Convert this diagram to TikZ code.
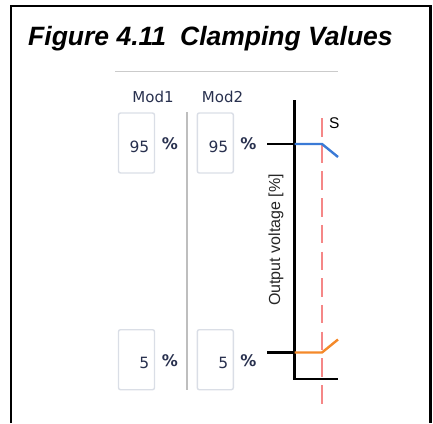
\documentclass[tikz,border=0pt]{standalone}
\usepackage{fontspec}
\setmainfont{Liberation Sans}
\newfontfamily\uifont{DejaVu Sans}
\definecolor{uitext}{RGB}{40,48,78}
\definecolor{boxgray}{RGB}{218,222,230}
\definecolor{sepgray}{RGB}{190,190,190}
\definecolor{plotblue}{RGB}{58,122,214}
\definecolor{plotorange}{RGB}{244,137,42}
\definecolor{plotred}{RGB}{245,135,135}
\tikzset{
  frameline/.style={line width=2.4pt, black},
  topsep/.style={line width=1pt, color=sepgray!80},
  vsep/.style={line width=1.5pt, color=sepgray},
  inbox/.style={draw=boxgray, line width=1.4pt, rounded corners=2pt, minimum width=36pt, minimum height=60pt, inner sep=0pt},
  uilabel/.style={font=\uifont\fontsize{15}{18}\selectfont, text=uitext, inner sep=0pt},
  valtext/.style={font=\uifont\fontsize{15.5}{18}\selectfont, text=uitext, inner sep=0pt, anchor=base east},
  pcttext/.style={font=\uifont\bfseries\fontsize{16}{19}\selectfont, text=uitext, inner sep=0pt, anchor=base},
  axisline/.style={line width=2.7pt, black},
  curve/.style={line width=2.4pt},
  markline/.style={line width=2pt, color=plotred, dash pattern=on 18.5pt off 8.2pt}
}
\begin{document}
\begin{tikzpicture}[x=1pt,y=-1pt]
\useasboundingbox (0,0) rectangle (433,423);
% outer frame (open at the bottom)
\coordinate (fbl) at (11,423);
\coordinate (ftl) at (11,6);
\coordinate (ftr) at (430.5,6);
\coordinate (fbr) at (430.5,423);
\draw[frameline] (fbl) -- (ftl) -- (ftr) -- (fbr);
% title
\node[anchor=base west, inner sep=0pt, font=\fontsize{26.5}{30}\selectfont\bfseries\itshape] (title) at (28,45.5) {Figure 4.11\hspace{14pt}Clamping Values};
% light separator under title
\coordinate (tsl) at (115,71);
\coordinate (tsr) at (338,71);
\draw[topsep] (tsl) -- (tsr);
% column headings
\node[uilabel, anchor=base] (mod1) at (153,102) {Mod1};
\node[uilabel, anchor=base] (mod2) at (222.5,102) {Mod2};
% input boxes
\node[inbox] (b1) at (136.5,143) {};
\node[inbox] (b2) at (215.3,143) {};
\node[inbox] (b3) at (136.5,359.7) {};
\node[inbox] (b4) at (215.3,359.7) {};
\node[valtext] (v1) at (149.5,152) {95};
\node[valtext] (v2) at (228.5,152) {95};
\node[valtext] (v3) at (149.5,368) {5};
\node[valtext] (v4) at (228.5,368) {5};
\node[pcttext] (p1) at (170,149.5) {\%};
\node[pcttext] (p2) at (248.5,149.5) {\%};
\node[pcttext] (p3) at (170,366.5) {\%};
\node[pcttext] (p4) at (248.5,366.5) {\%};
% vertical separator between columns
\coordinate (vst) at (187,112);
\coordinate (vsb) at (187,390);
\draw[vsep] (vst) -- (vsb);
% plot
\coordinate (ytop) at (294.5,100);
\coordinate (org) at (294.5,379);
\coordinate (xend) at (338,379);
\coordinate (hit0) at (267,144);
\coordinate (hit1) at (294.5,144);
\coordinate (lot0) at (267,352.5);
\coordinate (lot1) at (294.5,352.5);
\coordinate (hib) at (322,144);
\coordinate (hie) at (338,157);
\coordinate (lob) at (322,352.5);
\coordinate (loe) at (338,339.5);
\coordinate (rt) at (322,118);
\coordinate (rb) at (322,405);
\draw[axisline] (ytop) -- (org) -- (xend);
\draw[axisline] (hit0) -- (hit1);
\draw[axisline] (lot0) -- (lot1);
\draw[markline] (rt) -- (rb);
\draw[curve, plotblue] (hit1) -- (hib) -- (hie);
\draw[curve, plotorange] (lot1) -- (lob) -- (loe);
\node[anchor=base west, inner sep=0pt, font=\fontsize{15.5}{18}\selectfont] (slab) at (329,128.5) {S};
\node[rotate=90, inner sep=0pt, font=\fontsize{16}{19}\selectfont, text={black!85}] (ylab) at (276,240) {Output voltage [\%]};
\end{tikzpicture}
\end{document}
